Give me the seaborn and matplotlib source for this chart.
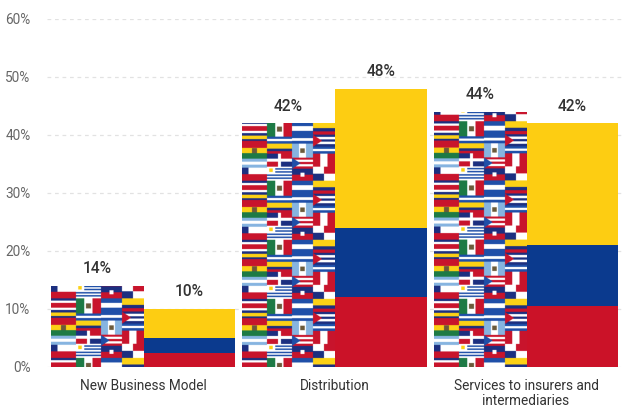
import numpy as np
import pandas as pd
import matplotlib
matplotlib.use("Agg")
import matplotlib.pyplot as plt
from matplotlib.patches import Rectangle
import seaborn as sns

categories = ["New Business Model", "Distribution", "Services to insurers and\nintermediaries"]
latam_values = [14, 42, 44]
colombia_values = [10, 48, 42]
y_ticks = [0, 10, 20, 30, 40, 50, 60]

LATAM, COLOMBIA = "Latin America", "Colombia"

NAVY, RED, YEL, GRN, SKY, WHT = "#1c2f80", "#c8142c", "#fcd116", "#1d7a45", "#86b4e0", "#ffffff"
BLU = "#1f4fa8"

# Horizontal stripes per flag: (share of height, colour)
STRIPES = {
    "costa_rica": [(1, NAVY), (1, WHT), (2, RED), (1, WHT), (1, NAVY)],
    "colombia": [(2, YEL), (1, NAVY), (1, RED)],
    "bolivia": [(1, RED), (1, YEL), (1, GRN)],
    "argentina": [(1, SKY), (1, WHT), (1, SKY)],
    "chile": [(1, WHT), (1, RED)],
    "band": [(1, BLU), (1, WHT), (1, BLU)],
    "uruguay": [(1, WHT), (1, BLU)] * 4 + [(1, WHT)],
    "cuba": [(1, NAVY), (1, WHT), (1, NAVY), (1, WHT), (1, NAVY)],
    "puerto_rico": [(1, RED), (1, WHT), (1, RED), (1, WHT), (1, RED)],
    "haiti": [(1, NAVY), (1, RED)],
    "dominican": [(1, NAVY), (1, RED)],
    "panama": [(1, WHT), (1, RED)],
}
# Vertical bands per flag
BANDS = {
    "mexico": [(1, GRN), (1, WHT), (1, RED)],
    "peru": [(1, RED), (1, WHT), (1, RED)],
    "guatemala": [(1, SKY), (1, WHT), (1, SKY)],
}
# Mosaic columns: (share of width, [(flag, height in px), ...])
MOSAIC = [
    (25, [("costa_rica", 14), ("colombia", 7), ("bolivia", 16), ("argentina", 9), ("chile", 13)]),
    (25, [("mexico", 15), ("band", 7), ("colombia", 10), ("dominican", 13), ("uruguay", 14)]),
    (21, [("band", 14), ("band", 8), ("guatemala", 14), ("puerto_rico", 11), ("haiti", 12)]),
    (22, [("colombia", 13), ("cuba", 12), ("band", 7), ("peru", 13), ("panama", 14)]),
]
SCALE = 4


def rgb(c):
    return np.array(matplotlib.colors.to_rgb(c)) * 255


def paint_flag(cv, x0, x1, y0, y1, name):
    w, h = x1 - x0, y1 - y0
    if name in STRIPES:
        total = sum(s for s, _ in STRIPES[name])
        y = y0
        for share, col in STRIPES[name]:
            step = share / total * h
            cv[int(y):int(y + step) + 1, x0:x1] = rgb(col)
            y += step
    else:
        total = sum(s for s, _ in BANDS[name])
        x = x0
        for share, col in BANDS[name]:
            step = share / total * w
            cv[y0:y1, int(x):int(x + step) + 1] = rgb(col)
            x += step
    cx, cy = (x0 + x1) // 2, (y0 + y1) // 2
    if name in ("mexico", "bolivia", "guatemala", "haiti"):
        r = h // 6
        cv[cy - r:cy + r, cx - r:cx + r] = rgb("#6b5a3a" if name != "haiti" else WHT)
    if name == "chile":
        cv[y0:cy, x0:x0 + h // 2] = rgb(NAVY)
    if name == "uruguay":
        cv[y0:cy, x0:x0 + w // 3] = rgb(WHT)
        r = h // 8
        cv[y0 + h // 4 - r:y0 + h // 4 + r, x0 + w // 6 - r:x0 + w // 6 + r] = rgb(YEL)
    if name == "panama":
        cv[y0:cy, cx:x1] = rgb(RED)
        cv[cy:y1, x0:cx] = rgb(NAVY)
        cv[cy:y1, cx:x1] = rgb(WHT)
    if name == "dominican":
        cv[y0:cy, cx:x1] = rgb(RED)
        cv[cy:y1, cx:x1] = rgb(NAVY)
        t = max(h // 8, 2)
        cv[cy - t:cy + t, x0:x1] = rgb(WHT)
        cv[y0:y1, cx - t:cx + t] = rgb(WHT)
    if name in ("cuba", "puerto_rico"):
        tri = RED if name == "cuba" else BLU
        for yy in range(y0, y1):
            reach = int((1 - abs(yy - (y0 + y1) / 2) / (h / 2)) * w * 0.42)
            cv[yy, x0:x0 + reach] = rgb(tri)


def build_mosaic():
    width = sum(c[0] for c in MOSAIC) * SCALE
    height = sum(f[1] for f in MOSAIC[0][1]) * SCALE
    cv = np.full((height, width, 3), 255.0)
    x = 0
    for col_w, flags in MOSAIC:
        y = 0
        for name, fh in flags:
            paint_flag(cv, x, x + col_w * SCALE, y, y + fh * SCALE, name)
            y += fh * SCALE
        x += col_w * SCALE
    return cv.astype(np.uint8)


sns.set_theme(style="white")
plt.rcParams["font.family"] = ["Roboto", "DejaVu Sans"]

df = pd.DataFrame({
    "category": categories * 2,
    "group": [LATAM] * 3 + [COLOMBIA] * 3,
    "share": latam_values + colombia_values,
})
colombia_only = df.assign(share=df["share"].where(df["group"] == COLOMBIA, 0))

fig = plt.figure(figsize=(6.28, 4.09), dpi=100)
ax = fig.add_axes([47.25 / 628, 1 - 367 / 409, 574.5 / 628, 348 / 409])

common = dict(x="category", y="hue_share", hue="group", hue_order=[LATAM, COLOMBIA],
              width=0.966, gap=0, errorbar=None, legend=False, ax=ax, order=categories,
              saturation=1, linewidth=0)
# Colombian tricolour: yellow full height, blue up to half, red up to a quarter
sns.barplot(data=df.assign(hue_share=df["share"]),
            palette={LATAM: "#ffffff", COLOMBIA: "#fdcd12"}, **common)
sns.barplot(data=colombia_only.assign(hue_share=colombia_only["share"] * 0.5),
            palette={LATAM: "#ffffff", COLOMBIA: "#0b3a8e"}, **common)
sns.barplot(data=colombia_only.assign(hue_share=colombia_only["share"] * 0.25),
            palette={LATAM: "#ffffff", COLOMBIA: "#cb1228"}, **common)

# Regional bars are filled with a repeating tile of flags, anchored near the baseline
px_per_unit = 348 / 60
tile = build_mosaic()
period = tile.shape[0] / SCALE / px_per_unit
offset = 9 / px_per_unit
stack = np.concatenate([tile] * 7, axis=0)
for bar in ax.containers[0]:
    x0, w, h = bar.get_x(), bar.get_width(), bar.get_height()
    bottom = offset - period
    im = ax.imshow(stack, extent=(x0, x0 + w, bottom, bottom + period * 7),
                   aspect="auto", origin="upper", zorder=3, interpolation="antialiased")
    im.set_clip_path(Rectangle((x0, 0), w, h, transform=ax.transData))

for container in ax.containers[:2]:
    ax.bar_label(container, fmt="%g%%", padding=7, fontsize=11.2, fontweight="medium",
                 color="#333333", zorder=5)

ax.set_xlim(-0.5, 2.5)
ax.set_ylim(0, 60)
ax.set_yticks(y_ticks)
ax.set_yticklabels([f"{t}%" for t in y_ticks], fontsize=9.8, color="#666666")
ax.set_xlabel("")
ax.set_ylabel("")
ax.tick_params(axis="x", length=0, pad=9, labelsize=9.8, labelcolor="#333333")
ax.tick_params(axis="y", length=0, pad=12)
ax.set_axisbelow(True)
ax.yaxis.grid(True, color="#e2e2e2", linewidth=0.9, linestyle=(0, (3, 3)))
ax.xaxis.grid(False)
sns.despine(ax=ax, left=True, bottom=True, top=True, right=True)
for lab in ax.get_xticklabels():
    lab.set_linespacing(1.05)

fig.savefig("out.png", dpi=100)
